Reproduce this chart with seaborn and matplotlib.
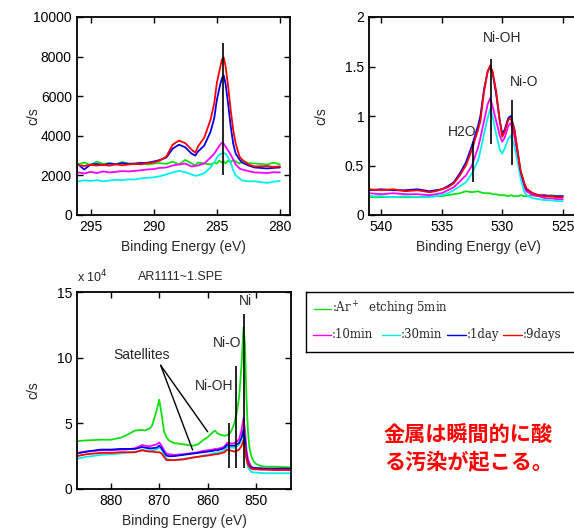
import pandas as pd
import matplotlib
matplotlib.use('Agg')
import matplotlib.pyplot as plt
import seaborn as sns

# sample labels and colours (legend order)
samples = ['Ar5min', '10min', '30min', '1day', '9days']
colors = ['#10e010', '#ff00ff', '#00f0f0', '#0000ee', '#ff0000']
legend_texts = [':Ar$^+$  etching 5min', ':10min', ':30min', ':1day', ':9days']

# C1s region
c1s_be = [296.0, 295.5, 295.0, 294.5, 294.0, 293.5, 293.0, 292.5, 292.0, 291.5,
          291.0, 290.5, 290.0, 289.5, 289.0, 288.5, 288.0, 287.5, 287.0, 286.7,
          286.5, 286.0, 285.5, 285.2, 285.0, 284.8, 284.6, 284.45, 284.3, 284.1,
          283.9, 283.7, 283.5, 283.2, 283.0, 282.5, 282.0, 281.0, 280.5, 280.0]
c1s_ar5min = [2560, 2650, 2520, 2700, 2580, 2620, 2560, 2680, 2600, 2580,
              2650, 2550, 2600, 2620, 2580, 2700, 2550, 2780, 2600, 2500,
              2650, 2600, 2550, 2650, 2600, 2750, 2650, 2700, 2600, 2750,
              2650, 2800, 2700, 2600, 2750, 2620, 2600, 2550, 2650, 2550]
c1s_10min = [2150, 2100, 2180, 2120, 2200, 2150, 2180, 2220, 2200, 2230,
             2260, 2300, 2320, 2380, 2400, 2500, 2550, 2600, 2450, 2480,
             2500, 2600, 2900, 3100, 3300, 3500, 3650, 3600, 3450, 3250,
             3050, 2800, 2550, 2350, 2300, 2220, 2150, 2120, 2160, 2150]
c1s_30min = [1700, 1750, 1720, 1760, 1700, 1740, 1780, 1760, 1800, 1790,
             1850, 1880, 1900, 1960, 2050, 2150, 2230, 2160, 2050, 1980,
             2000, 2100, 2400, 2650, 2900, 3050, 3100, 3120, 3100, 2900,
             2650, 2250, 2000, 1850, 1750, 1700, 1700, 1620, 1680, 1720]
c1s_1day = [2560, 2300, 2550, 2580, 2520, 2600, 2560, 2620, 2580, 2600,
            2620, 2640, 2700, 2780, 2900, 3350, 3550, 3420, 3100, 3000,
            3200, 3500, 4200, 4900, 5800, 6400, 6900, 7050, 6600, 5600,
            4500, 3600, 3100, 2800, 2650, 2500, 2400, 2350, 2380, 2400]
c1s_9days = [2520, 2480, 2530, 2500, 2540, 2490, 2560, 2510, 2550, 2580,
             2560, 2620, 2650, 2750, 2950, 3550, 3760, 3630, 3300, 3150,
             3450, 3900, 4800, 5650, 6660, 7250, 7850, 7950, 7500, 6500,
             5300, 4300, 3600, 2950, 2800, 2550, 2450, 2470, 2430, 2450]

# O1s region
o1s_be = [541.0, 540.0, 539.0, 538.0, 537.0, 536.0, 535.5, 535.0, 534.5, 534.0,
          533.5, 533.0, 532.5, 532.0, 531.8, 531.5, 531.2, 531.0, 530.8, 530.5,
          530.2, 530.0, 529.8, 529.5, 529.3, 529.0, 528.7, 528.5, 528.2, 528.0,
          527.5, 527.0, 526.5, 526.0, 525.5, 525.0]
o1s_ar5min = [0.18, 0.18, 0.18, 0.18, 0.18, 0.19, 0.19, 0.19, 0.20, 0.21,
              0.22, 0.24, 0.23, 0.24, 0.23, 0.22, 0.22, 0.22, 0.21, 0.21,
              0.20, 0.20, 0.20, 0.19, 0.20, 0.19, 0.19, 0.20, 0.19, 0.19,
              0.20, 0.19, 0.19, 0.20, 0.19, 0.19]
o1s_10min = [0.22, 0.21, 0.22, 0.21, 0.21, 0.20, 0.21, 0.22, 0.25, 0.28,
             0.34, 0.40, 0.50, 0.68, 0.78, 0.95, 1.12, 1.18, 1.10, 0.95,
             0.80, 0.74, 0.78, 0.90, 0.93, 0.80, 0.58, 0.42, 0.28, 0.24,
             0.20, 0.19, 0.17, 0.17, 0.16, 0.16]
o1s_30min = [0.19, 0.19, 0.18, 0.19, 0.18, 0.18, 0.19, 0.20, 0.22, 0.25,
             0.29, 0.33, 0.42, 0.55, 0.65, 0.82, 0.98, 1.07, 1.00, 0.82,
             0.66, 0.62, 0.67, 0.77, 0.80, 0.70, 0.52, 0.38, 0.24, 0.20,
             0.17, 0.16, 0.15, 0.15, 0.14, 0.14]
o1s_1day = [0.25, 0.26, 0.25, 0.25, 0.26, 0.24, 0.25, 0.26, 0.29, 0.33,
            0.42, 0.53, 0.70, 0.90, 1.00, 1.27, 1.45, 1.50, 1.44, 1.22,
            0.95, 0.82, 0.86, 0.98, 1.00, 0.87, 0.62, 0.45, 0.32, 0.26,
            0.22, 0.20, 0.20, 0.19, 0.19, 0.19]
o1s_9days = [0.26, 0.25, 0.26, 0.24, 0.25, 0.23, 0.24, 0.26, 0.28, 0.32,
             0.40, 0.50, 0.66, 0.86, 0.95, 1.25, 1.45, 1.51, 1.45, 1.25,
             0.95, 0.79, 0.84, 0.96, 0.98, 0.86, 0.62, 0.46, 0.33, 0.27,
             0.22, 0.20, 0.19, 0.19, 0.18, 0.18]

# Ni2p region (x 10^4 c/s)
ni_be = [887.0, 885.0, 882.0, 880.0, 878.0, 877.0, 875.0, 873.5, 873.0, 872.0,
         871.5, 870.5, 870.0, 869.5, 869.0, 868.5, 868.0, 867.0, 865.0, 863.0,
         862.0, 861.0, 860.0, 859.0, 858.5, 858.0, 857.5, 857.0, 856.5, 856.0,
         855.5, 855.0, 854.5, 854.0, 853.5, 853.0, 852.6, 852.3, 852.0, 851.7,
         851.4, 851.0, 850.5, 850.0, 849.0, 848.0, 846.0, 843.0]
ni_ar5min = [3.65, 3.7, 3.75, 3.75, 3.9, 4.05, 4.45, 4.5, 4.45, 4.6,
             4.8, 6.0, 6.8, 5.7, 4.4, 3.95, 3.7, 3.5, 3.4, 3.3,
             3.4, 3.7, 3.95, 4.3, 4.45, 4.25, 4.15, 4.1, 4.05, 4.1,
             4.2, 4.5, 5.0, 5.8, 7.0, 9.5, 12.3, 11.0, 7.0, 4.5,
             3.2, 2.5, 2.1, 1.9, 1.75, 1.7, 1.7, 1.65]
ni_10min = [2.75, 2.85, 2.95, 2.95, 3.0, 3.0, 3.1, 3.35, 3.3, 3.25,
            3.3, 3.4, 3.55, 3.3, 2.95, 2.7, 2.65, 2.6, 2.65, 2.75,
            2.8, 2.9, 2.95, 3.0, 3.05, 3.05, 3.1, 3.15, 3.25, 3.5,
            3.5, 3.45, 3.5, 3.6, 3.8, 4.5, 5.4, 4.5, 3.0, 2.3,
            2.0, 1.7, 1.6, 1.55, 1.5, 1.5, 1.45, 1.45]
ni_30min = [2.3, 2.45, 2.6, 2.65, 2.7, 2.75, 2.8, 3.0, 2.95, 2.95,
            2.95, 3.0, 3.2, 3.0, 2.6, 2.3, 2.25, 2.2, 2.3, 2.4,
            2.45, 2.55, 2.6, 2.7, 2.75, 2.75, 2.8, 2.85, 2.95, 3.2,
            3.15, 3.15, 3.15, 3.25, 3.4, 3.8, 4.5, 3.7, 2.3, 1.7,
            1.5, 1.3, 1.27, 1.25, 1.22, 1.2, 1.2, 1.2]
ni_1day = [2.7, 2.85, 3.0, 3.0, 3.05, 3.05, 3.05, 3.2, 3.15, 3.1,
           3.1, 3.15, 3.3, 3.1, 2.8, 2.55, 2.5, 2.5, 2.6, 2.7,
           2.75, 2.8, 2.85, 2.9, 2.95, 2.95, 3.0, 3.05, 3.15, 3.35,
           3.3, 3.3, 3.3, 3.4, 3.5, 3.9, 4.5, 3.8, 2.6, 2.0,
           1.8, 1.65, 1.6, 1.6, 1.58, 1.55, 1.55, 1.55]
ni_9days = [2.5, 2.65, 2.75, 2.75, 2.8, 2.8, 2.8, 2.95, 2.9, 2.85,
            2.85, 2.8, 2.8, 2.7, 2.45, 2.2, 2.2, 2.2, 2.25, 2.4,
            2.45, 2.5, 2.55, 2.6, 2.65, 2.65, 2.7, 2.75, 2.8, 3.0,
            2.95, 2.9, 2.85, 2.9, 3.0, 3.3, 3.7, 3.2, 2.3, 1.9,
            1.7, 1.55, 1.5, 1.5, 1.48, 1.47, 1.45, 1.45]

# peak markers: (energy, y_low, y_high)
c1s_marks = [(284.5, 2000, 8700)]
o1s_marks = [(532.4, 0.33, 0.74), (530.9, 0.72, 1.58), (529.2, 0.51, 1.16)]
ni_marks = [(855.5, 1.6, 5.05), (854.1, 1.6, 9.35), (852.4, 1.6, 13.3)]

# red note as it shows on the slide
note_lines = ['金属は瞬間的に酸', 'る汚染が起こる。']


def long_form(be, series):
    frames = []
    for name, vals in zip(samples, series):
        frames.append(pd.DataFrame({'be': be, 'cps': vals, 'sample': name}))
    return pd.concat(frames, ignore_index=True)


c1s = long_form(c1s_be, [c1s_ar5min, c1s_10min, c1s_30min, c1s_1day, c1s_9days])
o1s = long_form(o1s_be, [o1s_ar5min, o1s_10min, o1s_30min, o1s_1day, o1s_9days])
ni = long_form(ni_be, [ni_ar5min, ni_10min, ni_30min, ni_1day, ni_9days])

sns.set_style('ticks')
plt.rcParams['font.family'] = ['Liberation Sans', 'DejaVu Sans']
plt.rcParams['axes.linewidth'] = 1.3

palette = dict(zip(samples, colors))

fig = plt.figure(figsize=(5.74, 5.3), dpi=100)
W, H = 574, 530
ax_c = fig.add_axes([76.7 / W, 1 - 215 / H, 213.3 / W, 198 / H])
ax_o = fig.add_axes([369 / W, 1 - 215 / H, 218 / W, 198 / H])
ax_n = fig.add_axes([77.3 / W, 1 - 489 / H, 213.7 / W, 197 / H])

for ax, df in [(ax_c, c1s), (ax_o, o1s), (ax_n, ni)]:
    sns.lineplot(data=df, x='be', y='cps', hue='sample', hue_order=samples,
                 palette=palette, linewidth=1.3, legend=False, ax=ax)
    ax.tick_params(direction='in', top=True, right=True, length=4,
                   labelsize=10, colors='black', width=1)
    ax.set_xlabel('Binding Energy (eV)', fontsize=10)
    ax.set_ylabel('c/s', fontsize=10)
    for sp in ax.spines.values():
        sp.set_color('black')

# C1s
ax_c.set_xlim(296.1, 279.2)
ax_c.set_ylim(0, 10000)
ax_c.set_xticks([295, 290, 285, 280])
ax_c.set_yticks([0, 2000, 4000, 6000, 8000, 10000])
for e, lo, hi in c1s_marks:
    ax_c.vlines(e, lo, hi, color='black', linewidth=1.2)
ax_c.yaxis.set_label_coords(-0.172, 0.5)
ax_c.xaxis.set_label_coords(0.5, -0.125)

# O1s
ax_o.set_xlim(541.0, 523.0)
ax_o.set_ylim(0, 2)
ax_o.set_xticks([540, 535, 530, 525])
ax_o.set_yticks([0, 0.5, 1, 1.5, 2])
ax_o.set_yticklabels(['0', '0.5', '1', '1.5', '2'])
for e, lo, hi in o1s_marks:
    ax_o.vlines(e, lo, hi, color='black', linewidth=1.2)
ax_o.text(533.3, 0.84, 'H2O', ha='center', va='center', fontsize=10)
ax_o.text(530.0, 1.79, 'Ni-OH', ha='center', va='center', fontsize=10)
ax_o.text(528.2, 1.34, 'Ni-O', ha='center', va='center', fontsize=10)
ax_o.yaxis.set_label_coords(-0.188, 0.5)
ax_o.xaxis.set_label_coords(0.5, -0.125)

# Ni2p
ax_n.set_xlim(886.9, 842.8)
ax_n.set_ylim(0, 15)
ax_n.set_xticks([880, 870, 860, 850])
ax_n.set_yticks([0, 5, 10, 15])
for e, lo, hi in ni_marks:
    ax_n.vlines(e, lo, hi, color='black', linewidth=1.2)
ax_n.text(852.2, 14.3, 'Ni', ha='center', va='center', fontsize=10)
ax_n.text(855.9, 11.1, 'Ni-O', ha='center', va='center', fontsize=10)
ax_n.text(858.7, 7.85, 'Ni-OH', ha='center', va='center', fontsize=10)
ax_n.text(873.6, 10.2, 'Satellites', ha='center', va='center', fontsize=10)
ax_n.plot([869.7, 860.0], [9.42, 4.36], color='black', linewidth=1)
ax_n.plot([869.7, 863.1], [9.42, 2.97], color='black', linewidth=1)
ax_n.yaxis.set_label_coords(-0.175, 0.5)
ax_n.xaxis.set_label_coords(0.5, -0.125)
fig.text(77 / W, 1 - 277 / H, r'x 10$^4$', fontsize=9, ha='left', va='center')
fig.text(181 / W, 1 - 277 / H, 'AR1111~1.SPE', fontsize=9, ha='center', va='center')

# hand-made legend box
leg = fig.add_axes([306 / W, 1 - 352 / H, 280 / W, 60 / H])
leg.set_xlim(306, 586)
leg.set_ylim(352, 292)
leg.set_xticks([])
leg.set_yticks([])
for sp in leg.spines.values():
    sp.set_color('black')
    sp.set_linewidth(1)
leg_rows = [(314, 331, 309), (313, 331, 335), (382, 400, 335), (447, 466, 335), (503, 522, 335)]
for (x0, x1, y), c, t in zip(leg_rows, colors, legend_texts):
    leg.plot([x0, x1], [y, y], color=c, linewidth=1)
    leg.text(x1 + 1, y, t, family=['DejaVu Serif'], fontsize=8.5, va='center', ha='left')

# red Japanese note
for i, line in enumerate(note_lines):
    fig.text(384 / W, 1 - (434 + 29 * i) / H, line, color='#ff0000', fontsize=15.2,
             fontweight='bold', family=['Noto Sans CJK JP', 'DejaVu Sans'], va='center')

fig.savefig('out.png', dpi=100)
